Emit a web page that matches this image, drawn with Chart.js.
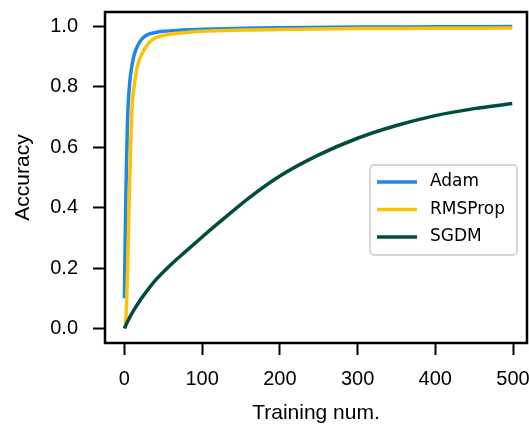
<!DOCTYPE html>
<html>
<head>
<meta charset="utf-8">
<script src="https://cdn.jsdelivr.net/npm/chart.js@4.4.1/dist/chart.umd.min.js"></script>
<style>
    html, body { margin: 0; padding: 0; background: #fff; }
</style>
</head>
<body>
<canvas id="accChart" width="529" height="428"></canvas>
<script>
// Accuracy per training step for each optimizer
const adamSteps = [0, 1, 2, 3, 4, 5, 7, 9, 12, 15, 20, 25, 30, 40, 50, 75, 100, 150, 200, 300, 400, 499];
const adamAcc = [0.10, 0.30, 0.46, 0.58, 0.69, 0.75, 0.82, 0.86, 0.90, 0.925, 0.950, 0.965, 0.973, 0.980, 0.984, 0.988, 0.991, 0.994, 0.996, 0.998, 0.999, 1.000];

const rmsSteps = [0, 1, 2, 3, 4, 5, 6, 8, 10, 13, 16, 20, 27, 35, 50, 78, 100, 150, 200, 300, 400, 499];
const rmsAcc = [0.00, 0.01, 0.04, 0.10, 0.19, 0.30, 0.42, 0.60, 0.74, 0.81, 0.86, 0.895, 0.93, 0.955, 0.970, 0.980, 0.984, 0.988, 0.990, 0.993, 0.994, 0.995];

const sgdmSteps = [0, 5, 10, 20, 30, 40, 60, 80, 100, 120, 160, 200, 250, 300, 350, 400, 450, 499];
const sgdmAcc = [0.0, 0.028, 0.052, 0.093, 0.128, 0.16, 0.212, 0.258, 0.303, 0.347, 0.432, 0.505, 0.575, 0.63, 0.672, 0.705, 0.728, 0.745];

// Tick values
const xTicks = [0, 100, 200, 300, 400, 500];
const yTicks = [0, 0.2, 0.4, 0.6, 0.8, 1.0];

const toPoints = (xs, ys) => xs.map((x, i) => ({ x: x, y: ys[i] }));

Chart.defaults.font.family = '"Liberation Sans", Arial, sans-serif';
Chart.defaults.color = '#000';

// Box around the plot area
const frame = {
    id: 'frame',
    afterDatasetsDraw(chart) {
        const { ctx, chartArea: a } = chart;
        ctx.save();
        ctx.strokeStyle = '#000';
        ctx.lineWidth = 2.5;
        ctx.strokeRect(a.left, a.top, a.right - a.left, a.bottom - a.top);
        ctx.restore();
    }
};

// Legend drawn inside the plot, lower right
const innerLegend = {
    id: 'innerLegend',
    afterDraw(chart) {
        const { ctx, chartArea: a } = chart;
        const w = 147, h = 90;
        const x = a.right - 10 - w;
        const y = 165;
        ctx.save();
        ctx.beginPath();
        ctx.roundRect(x, y, w, h, 4);
        ctx.fillStyle = 'rgba(255,255,255,0.8)';
        ctx.fill();
        ctx.strokeStyle = '#d6d6d6';
        ctx.lineWidth = 2;
        ctx.stroke();

        ctx.font = '17px "DejaVu Sans", sans-serif';
        ctx.textBaseline = 'middle';
        chart.data.datasets.forEach((ds, i) => {
            const rowY = y + 17 + i * 27.5;
            ctx.strokeStyle = ds.borderColor;
            ctx.lineWidth = 3.5;
            ctx.beginPath();
            ctx.moveTo(x + 7, rowY);
            ctx.lineTo(x + 47, rowY);
            ctx.stroke();
            ctx.fillStyle = '#000';
            ctx.fillText(ds.label, x + 60, rowY);
        });
        ctx.restore();
    }
};

const lineStyle = {
    borderWidth: 3.5,
    pointRadius: 0,
    fill: false,
    cubicInterpolationMode: 'monotone'
};

new Chart(document.getElementById('accChart'), {
    type: 'line',
    data: {
        datasets: [
            { label: 'Adam', data: toPoints(adamSteps, adamAcc), borderColor: '#1e88e5', order: 2, ...lineStyle },
            { label: 'RMSProp', data: toPoints(rmsSteps, rmsAcc), borderColor: '#ffc107', order: 1, ...lineStyle },
            { label: 'SGDM', data: toPoints(sgdmSteps, sgdmAcc), borderColor: '#004d40', order: 0, ...lineStyle }
        ]
    },
    options: {
        responsive: false,
        animation: false,
        layout: { padding: { left: 0, top: 12, right: 2, bottom: 0 } },
        plugins: {
            legend: { display: false },
            tooltip: { enabled: false }
        },
        scales: {
            x: {
                type: 'linear',
                min: -25,
                max: 518,
                afterBuildTicks: (scale) => { scale.ticks = xTicks.map(v => ({ value: v })); },
                afterFit: (scale) => {
                    scale.height = 85;
                    scale.paddingLeft = 0;
                    scale.paddingRight = 0;
                },
                border: { display: false },
                grid: { drawOnChartArea: false, drawTicks: true, tickLength: 12, tickWidth: 2, tickColor: '#000' },
                ticks: { font: { size: 20 }, padding: 12, maxRotation: 0 },
                title: { display: true, text: 'Training num.', font: { size: 21 }, padding: { top: 0, bottom: 2 } }
            },
            y: {
                min: -0.048,
                max: 1.048,
                afterBuildTicks: (scale) => { scale.ticks = yTicks.map(v => ({ value: v })); },
                afterFit: (scale) => {
                    scale.width = 105;
                    scale.paddingTop = 0;
                    scale.paddingBottom = 0;
                },
                border: { display: false },
                grid: { drawOnChartArea: false, drawTicks: true, tickLength: 12, tickWidth: 2, tickColor: '#000' },
                ticks: { font: { size: 20 }, padding: 15, callback: (v) => v.toFixed(1) },
                title: { display: true, text: 'Accuracy', font: { size: 21 }, padding: { top: 11, bottom: 0 } }
            }
        }
    },
    plugins: [frame, innerLegend]
});
</script>
</body>
</html>
